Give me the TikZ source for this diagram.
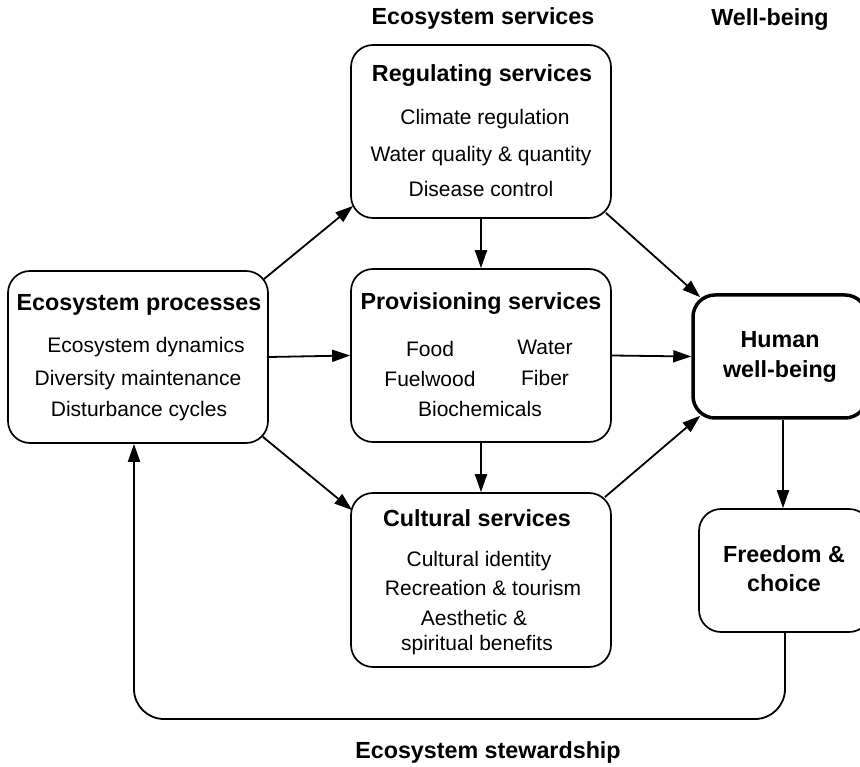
\documentclass[tikz,border=0pt]{standalone}
\usepackage{fontspec}
\setmainfont{Liberation Sans}
\usetikzlibrary{arrows.meta,calc}
\begin{document}
\begin{tikzpicture}[x=1pt,y=-1pt,
  box/.style={draw, line width=1.7pt, rounded corners=22pt, inner sep=0pt},
  txt/.style={font=\fontsize{21}{25}\selectfont, anchor=base, inner sep=0pt},
  ttl/.style={font=\fontsize{23.3}{28}\selectfont\bfseries, anchor=base, inner sep=0pt},
  arr/.style={line width=1.8pt, -{Triangle[length=18pt,width=12pt]}}]
\useasboundingbox (0,0) rectangle (860,767);
% boxes
\node[box, minimum width=260pt, minimum height=172pt] (ep) at (138,357) {};
\node[box, minimum width=260pt, minimum height=173pt] (reg) at (481,131.5) {};
\node[box, minimum width=260pt, minimum height=173pt] (prov) at (481,355.5) {};
\node[box, minimum width=260pt, minimum height=174pt] (cult) at (481,580) {};
\node[box, line width=3.5pt, minimum width=174pt, minimum height=123pt] (hwb) at (780,356.5) {};
\node[box, minimum width=172pt, minimum height=123pt] (free) at (785,570.5) {};
% headers
\node[ttl] (h1) at (483,25) {Ecosystem services};
\node[ttl] (h2) at (770,26) {Well-being};
\node[ttl] (h3) at (488,758) {Ecosystem stewardship};
% ecosystem processes
\node[ttl] (ept) at (139,311) {Ecosystem processes};
\node[txt] (ep1) at (146,353) {Ecosystem dynamics};
\node[txt] (ep2) at (138,385) {Diversity maintenance};
\node[txt] (ep3) at (139,417) {Disturbance cycles};
% regulating
\node[ttl] (regt) at (482,82) {Regulating services};
\node[txt] (reg1) at (485,125) {Climate regulation};
\node[txt] (reg2) at (481,162) {Water quality \& quantity};
\node[txt] (reg3) at (481,197) {Disease control};
% provisioning
\node[ttl] (provt) at (481,310) {Provisioning services};
\node[txt] (pv1) at (430,357) {Food};
\node[txt] (pv2) at (545,355) {Water};
\node[txt] (pv3) at (430,387) {Fuelwood};
\node[txt] (pv4) at (545,386) {Fiber};
\node[txt] (pv5) at (480,417) {Biochemicals};
% cultural
\node[ttl] (cultt) at (477,526) {Cultural services};
\node[txt] (cu1) at (479,566) {Cultural identity};
\node[txt] (cu2) at (483,595) {Recreation \& tourism};
\node[txt] (cu3) at (474,625) {Aesthetic \&};
\node[txt] (cu4) at (477,650) {spiritual benefits};
% human well-being
\node[ttl] (hw1) at (780,348) {Human};
\node[ttl] (hw2) at (780,378) {well-being};
\node[ttl] (fr1) at (784,562) {Freedom \&};
\node[ttl] (fr2) at (784,591) {choice};
% connectors
\draw[arr] ($(ep.north east)+(-5,9)$) -- ($(reg.south west)+(3,-13)$);
\draw[arr] (ep.east) -- (prov.west);
\draw[arr] ($(ep.south east)+(-6,-7)$) -- ($(cult.north west)+(2,18)$);
\draw[arr] (reg.south) -- (prov.north);
\draw[arr] (prov.south) -- (cult.north);
\draw[arr] ($(reg.south east)+(-6,-6)$) -- ($(hwb.north west)+(9,4)$);
\draw[arr] (prov.east) -- (hwb.west);
\draw[arr] ($(cult.north east)+(-7,5)$) -- ($(hwb.south west)+(9,-4)$);
\draw[arr] (hwb.south -| 783,0) -- (free.north -| 783,0);
\coordinate (rb) at (785,719);
\coordinate (lb) at (134,719);
\draw[arr, rounded corners=30pt] (free.south) -- (rb) -- (lb) -- (lb |- ep.south);
\end{tikzpicture}
\end{document}
